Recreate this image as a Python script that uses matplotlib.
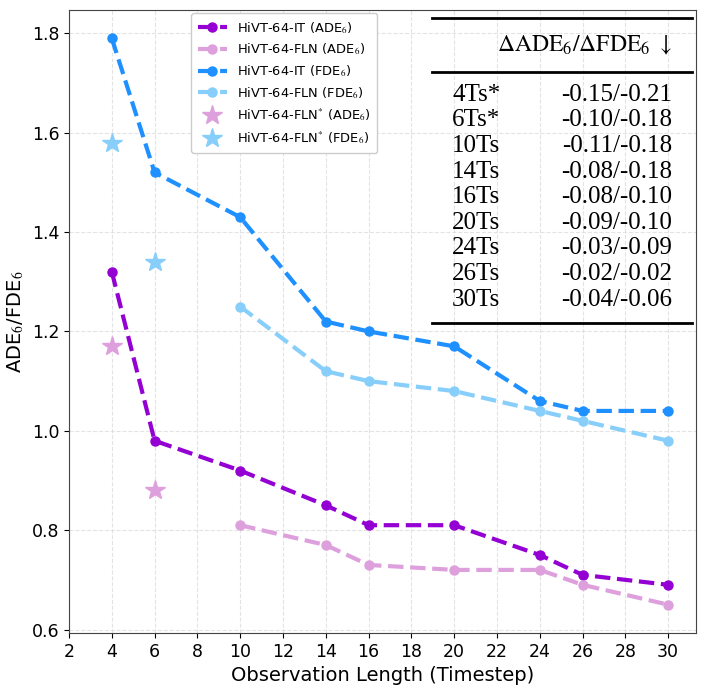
import matplotlib
matplotlib.use("Agg")
import matplotlib.pyplot as plt

# observation lengths
steps_it = [4, 6, 10, 14, 16, 20, 24, 26, 30]
steps_fln = [10, 14, 16, 20, 24, 26, 30]
steps_star = [4, 6]

ade_it = [1.32, 0.98, 0.92, 0.85, 0.81, 0.81, 0.75, 0.71, 0.69]
ade_fln = [0.81, 0.77, 0.73, 0.72, 0.72, 0.69, 0.65]
fde_it = [1.79, 1.52, 1.43, 1.22, 1.20, 1.17, 1.06, 1.04, 1.04]
fde_fln = [1.25, 1.12, 1.10, 1.08, 1.04, 1.02, 0.98]
ade_star = [1.17, 0.88]
fde_star = [1.58, 1.34]

# inset table
row_labels = ["4Ts*", "6Ts*", "10Ts", "14Ts", "16Ts", "20Ts", "24Ts", "26Ts", "30Ts"]
row_values = ["-0.15/-0.21", "-0.10/-0.18", "-0.11/-0.18", "-0.08/-0.18",
              "-0.08/-0.10", "-0.09/-0.10", "-0.03/-0.09", "-0.02/-0.02",
              "-0.04/-0.06"]

plt.rcParams["mathtext.fontset"] = "stix"
fig = plt.figure(figsize=(7.05, 6.86), dpi=100)
ax = fig.add_axes([69 / 705, 53 / 686, 627 / 705, 623 / 686])

lw, ms = 3, 6.5
ax.plot(steps_it, ade_it, "--o", color="darkviolet", lw=lw, ms=ms,
        label="HiVT-64-IT (ADE$_6$)")
ax.plot(steps_fln, ade_fln, "--o", color="plum", lw=lw, ms=ms,
        label="HiVT-64-FLN (ADE$_6$)")
ax.plot(steps_it, fde_it, "--o", color="dodgerblue", lw=lw, ms=ms,
        label="HiVT-64-IT (FDE$_6$)")
ax.plot(steps_fln, fde_fln, "--o", color="lightskyblue", lw=lw, ms=ms,
        label="HiVT-64-FLN (FDE$_6$)")
ax.plot(steps_star, ade_star, "*", color="plum", ms=15, ls="none",
        label="HiVT-64-FLN$^{*}$ (ADE$_6$)")
ax.plot(steps_star, fde_star, "*", color="lightskyblue", ms=15, ls="none",
        label="HiVT-64-FLN$^{*}$ (FDE$_6$)")

ax.set_xlim(left=2)
ax.set_xticks(range(2, 31, 2))
ax.set_yticks([0.6, 0.8, 1.0, 1.2, 1.4, 1.6, 1.8])
ax.tick_params(labelsize=12.5, colors="black")
ax.grid(True, ls="--", color="#dddddd", lw=0.8, alpha=0.8)
for s in ax.spines.values():
    s.set_color("#444444")
ax.set_xlabel("Observation Length (Timestep)", fontsize=14)
ax.set_ylabel("ADE$_6$/FDE$_6$", fontsize=14)

ax.legend(loc="upper left", bbox_to_anchor=(0.19, 1.0), borderaxespad=0.25,
          fontsize=9.4, handlelength=2.2, labelspacing=0.45, framealpha=1,
          borderpad=0.5, edgecolor="#cccccc")

# table drawn in axes coordinates
serif = dict(family="Liberation Serif", fontsize=18)
tr = ax.transAxes
for yy in (0.987, 0.900, 0.498):
    ax.plot([0.579, 0.994], [yy, yy], color="black", lw=2, transform=tr,
            clip_on=False)
ax.text(0.962, 0.944, r"$\Delta\mathrm{ADE}_6/\Delta\mathrm{FDE}_6\ \downarrow$",
        transform=tr, ha="right", va="center", fontsize=17)
y0, dy = 0.864, 0.0411
for i, (lab, val) in enumerate(zip(row_labels, row_values)):
    y = y0 - i * dy
    ax.text(0.611, y, lab, transform=tr, ha="left", va="center", **serif)
    ax.text(0.962, y, val, transform=tr, ha="right", va="center", **serif)

fig.savefig("out.png", dpi=100)
